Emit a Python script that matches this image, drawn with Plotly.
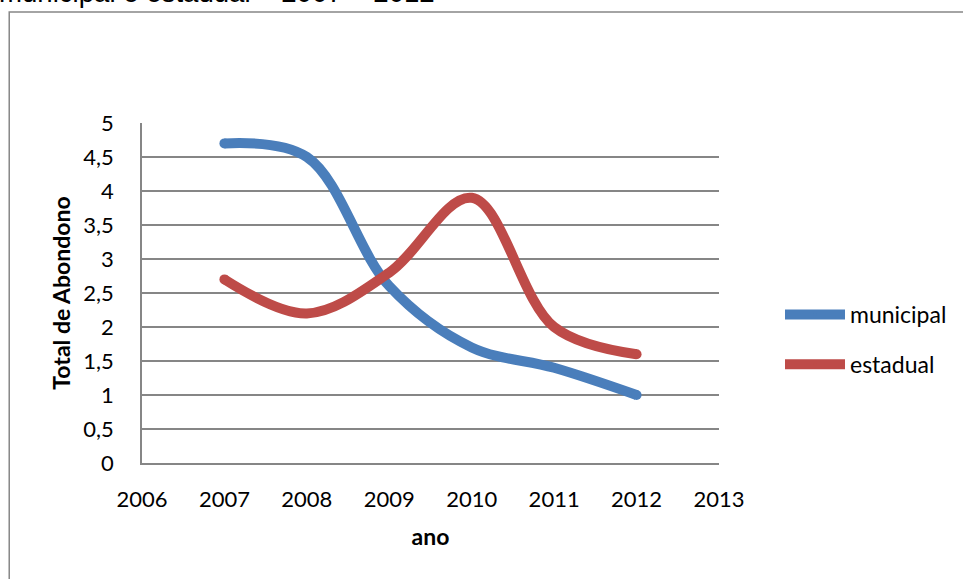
import plotly.graph_objects as go

# Dropout totals per year, municipal vs state schools
anos = [2007, 2008, 2009, 2010, 2011, 2012]
municipal = [4.7, 4.5, 2.6, 1.7, 1.4, 1.0]
estadual = [2.7, 2.2, 2.8, 3.9, 2.0, 1.6]

titulo = "municipal e estadual – 2007 – 2012"
y_ticks = [0, 0.5, 1, 1.5, 2, 2.5, 3, 3.5, 4, 4.5, 5]
x_ticks = [2006, 2007, 2008, 2009, 2010, 2011, 2012, 2013]

AZUL = "#4a7ebb"
VERMELHO = "#be4b48"
GRADE = "#868686"
FONTE = "Lato, Open Sans, sans-serif"

W, H = 963, 579
L, R, T, B = 142, 243, 123, 116
PW, PH = W - L - R, H - T - B


def px_x(px):
    return (px - L) / PW


def px_y(py):
    return (H - B - py) / PH


fig = go.Figure()
for nome, vals, cor in [("municipal", municipal, AZUL), ("estadual", estadual, VERMELHO)]:
    # round caps at both ends of each curve
    tamanhos = [0] * len(vals)
    tamanhos[0] = tamanhos[-1] = 10
    fig.add_trace(go.Scatter(
        x=anos, y=vals, name=nome, legendgroup=nome, mode="lines+markers",
        line=dict(color=cor, width=10, shape="spline", smoothing=1.0),
        marker=dict(color=cor, size=tamanhos, opacity=1, line=dict(width=0)),
    ))

fig.update_layout(
    width=W, height=H,
    margin=dict(l=L, r=R, t=T, b=B, pad=0),
    paper_bgcolor="white", plot_bgcolor="white",
    separators=",.",
    font=dict(family=FONTE, size=22, color="black"),
    showlegend=True,
    legend=dict(
        x=px_x(780), y=px_y(293), xanchor="left", yanchor="top",
        font=dict(size=23), itemwidth=60, tracegroupgap=17,
        traceorder="grouped", bgcolor="rgba(0,0,0,0)",
    ),
    xaxis=dict(
        range=[2006, 2013], tickvals=x_ticks, showgrid=False, zeroline=False,
        showline=True, linecolor=GRADE, linewidth=1.5, ticks="",
        ticklabelstandoff=16,
        title=dict(text="<b>ano</b>", font=dict(size=23), standoff=18),
        tickfont=dict(size=22),
    ),
    yaxis=dict(
        range=[0, 5], tickvals=y_ticks, showgrid=True, gridcolor=GRADE, gridwidth=1.5,
        zeroline=False, showline=True, linecolor=GRADE, linewidth=1.5, ticks="",
        ticklabelstandoff=22,
        title=dict(text="<b>Total de Abondono</b>", font=dict(size=23), standoff=6),
        tickfont=dict(size=22),
    ),
    shapes=[dict(
        type="rect", xref="paper", yref="paper",
        x0=px_x(9), x1=px_x(970), y0=px_y(600), y1=px_y(12),
        line=dict(color="#878787", width=1.5), fillcolor="rgba(0,0,0,0)", layer="below",
    )],
    annotations=[dict(
        text=titulo, xref="paper", yref="paper", x=px_x(-3), y=px_y(-7.5),
        xanchor="left", yanchor="middle", showarrow=False,
        font=dict(family="Liberation Sans, Arial, sans-serif", size=27.6, color="black"),
    )],
)

fig.write_html("out.html")
